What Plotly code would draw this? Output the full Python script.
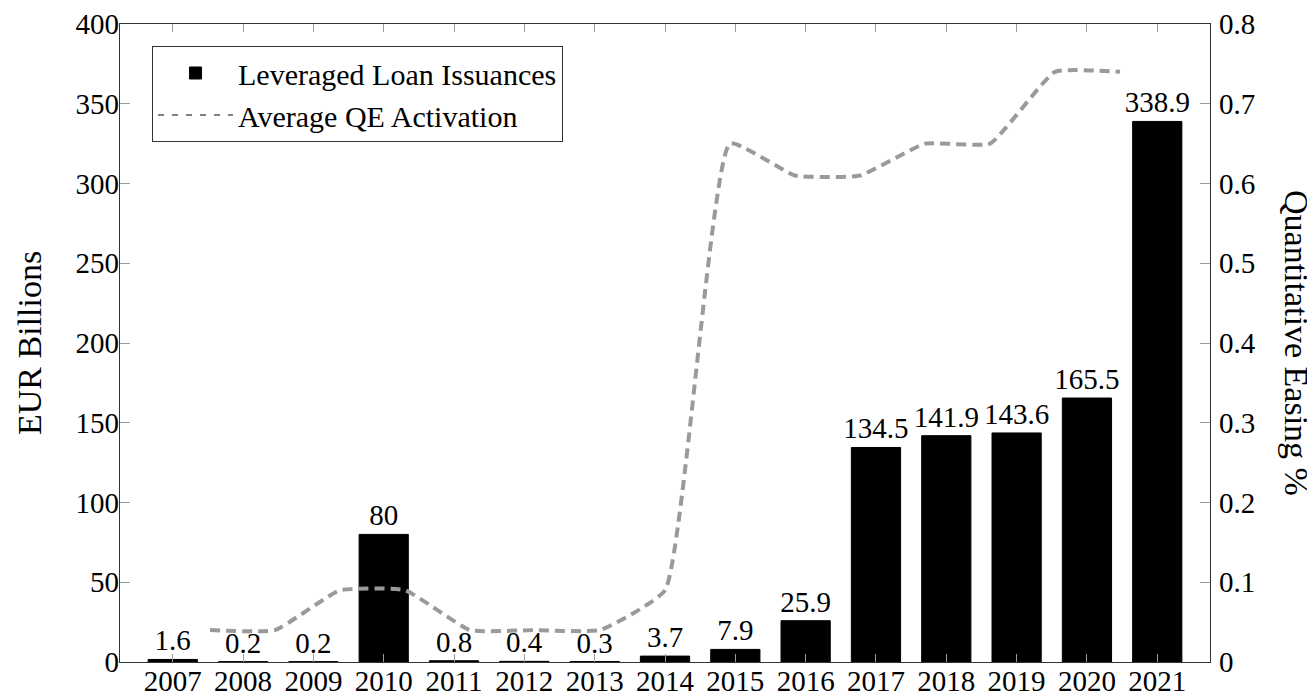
import plotly.graph_objects as go

years = [str(y) for y in range(2007, 2022)]
loan_issuance = [1.6, 0.2, 0.2, 80, 0.8, 0.4, 0.3, 3.7, 7.9, 25.9, 134.5, 141.9, 143.6, 165.5, 338.9]
qe_years = list(range(2007, 2022))
qe_activation = [0.04, 0.04, 0.09, 0.09, 0.04, 0.04, 0.04, 0.09, 0.65, 0.61, 0.61, 0.65, 0.65, 0.74, 0.74]
left_ticks = list(range(0, 401, 50))
right_ticks = [0, 0.1, 0.2, 0.3, 0.4, 0.5, 0.6, 0.7, 0.8]

FONT = "Liberation Serif"
FS = 29
FS_LEG = 30
FS_TITLE = 34
AXC = "#333333"
TICKC = "#9a9a9a"

fig = go.Figure()

fig.add_trace(go.Bar(
    x=years, y=loan_issuance, name="Leveraged Loan Issuances",
    marker=dict(color="black", line=dict(color="black", width=1)),
    text=[f"{v:g}" for v in loan_issuance], textposition="outside",
    textfont=dict(family=FONT, size=FS, color="black"),
    constraintext="none",
    cliponaxis=False, showlegend=True,
))

fig.add_trace(go.Scatter(
    x=qe_years, y=qe_activation, xaxis="x2", yaxis="y2",
    mode="lines", line=dict(color="#9a9a9a", width=4, dash="10px,6px", shape="spline", smoothing=0.4),
    showlegend=False, name="Average QE Activation",
))

# legend entry (black thin dashes as in reference)
fig.add_trace(go.Scatter(
    x=[None], y=[None], mode="lines", name="Average QE Activation",
    line=dict(color="black", width=1.2, dash="6px,8px"), showlegend=True,
))

# page body has an 8px margin: figure is sized/offset so the plot area sits
# at x 120..1210, y 24..662 in the 1315x697 window
fig.update_layout(
    width=1307, height=689, autosize=False,
    margin=dict(l=112, r=105, t=16, b=35, autoexpand=False),
    plot_bgcolor="white", paper_bgcolor="white",
    font=dict(family=FONT, size=FS, color="black"),
    bargap=0.3,
    xaxis=dict(
        type="category", categoryorder="array", categoryarray=years,
        range=[-0.75, 14.75], ticks="inside", ticklen=8, tickcolor=TICKC, tickwidth=1,
        showline=True, linecolor=AXC, linewidth=1.2, mirror="ticks",
        showgrid=False, zeroline=False, tickfont=dict(family=FONT, size=FS),
        tickangle=0, automargin=False,
    ),
    xaxis2=dict(
        overlaying="x", anchor="y2", range=[2005.615, 2022.385], visible=False,
    ),
    yaxis=dict(
        range=[0, 400], tickvals=left_ticks, ticks="inside", ticklen=10,
        tickcolor=TICKC, tickwidth=1, showline=True, linecolor=AXC, linewidth=1.2,
        showgrid=False, zeroline=False, tickfont=dict(family=FONT, size=FS),
        automargin=False,
    ),
    yaxis2=dict(
        overlaying="y", side="right", range=[0, 0.8], tickvals=right_ticks,
        ticktext=[f"{v:g}" for v in right_ticks],
        ticks="inside", ticklen=10, tickcolor=TICKC, tickwidth=1,
        showline=True, linecolor=AXC, linewidth=1.2,
        showgrid=False, zeroline=False, tickfont=dict(family=FONT, size=FS),
        automargin=False,
    ),
    legend=dict(
        x=0.0294, y=0.9655, xanchor="left", yanchor="top",
        bgcolor="white", bordercolor=AXC, borderwidth=1,
        font=dict(family=FONT, size=FS_LEG), tracegroupgap=0,
        itemwidth=75,
    ),
    annotations=[
        dict(text="EUR Billions", xref="paper", yref="paper", x=-0.0835, y=0.5,
             textangle=-90, showarrow=False, font=dict(family=FONT, size=FS_TITLE),
             xanchor="center", yanchor="middle"),
        dict(text="Quantitative Easing %", xref="paper", yref="paper", x=1.0798, y=0.5,
             textangle=90, showarrow=False, font=dict(family=FONT, size=FS_TITLE),
             xanchor="center", yanchor="middle"),
    ],
)

try:
    fig.layout.xaxis.ticklabelstandoff = -7
    fig.layout.yaxis.ticklabelstandoff = -6
    fig.layout.yaxis2.ticklabelstandoff = 2
except Exception:
    pass

fig.write_html("out.html")
